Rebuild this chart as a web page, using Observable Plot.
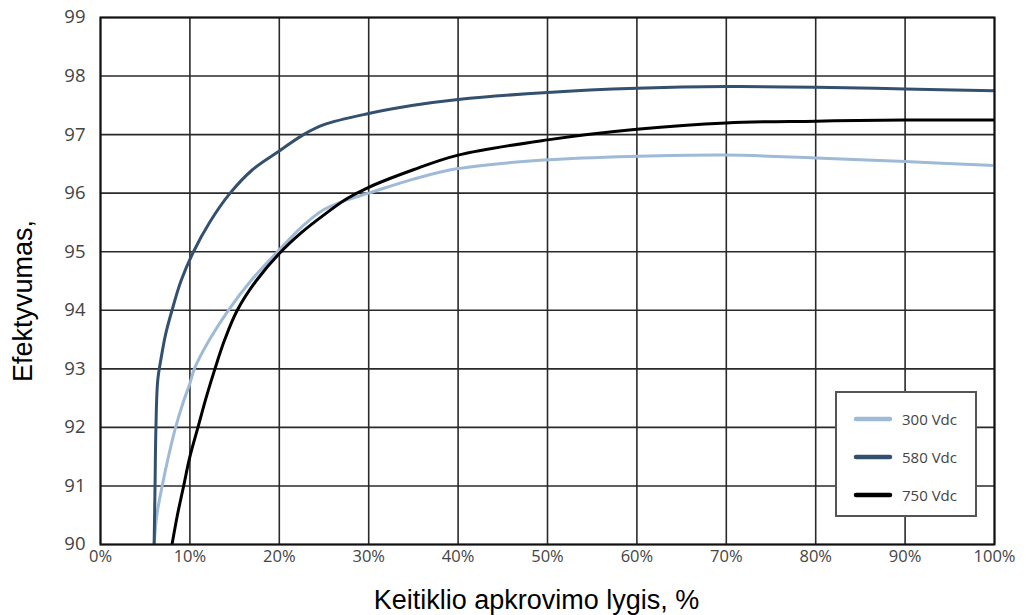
<!DOCTYPE html>
<html>
<head>
<meta charset="utf-8">
<script src="https://cdn.jsdelivr.net/npm/d3@7"></script>
<script src="https://cdn.jsdelivr.net/npm/@observablehq/plot@0.6"></script>
<style>
  html, body { margin: 0; padding: 0; background: #fff; }
  #wrap { position: relative; width: 1026px; height: 615px; }
  g[aria-label="y-axis tick label"] text { font-family: "Open Sans", sans-serif; font-size: 18.5px; fill: #444; }
  g[aria-label="x-axis tick label"] text { font-family: "Open Sans", sans-serif; font-size: 16.5px; fill: #444; }
  g[aria-label="x-axis label"] text, g[aria-label="y-axis label"] text { font-family: "Liberation Sans", Arial, sans-serif; font-size: 27px; fill: #000; }
  #legend { position: absolute; left: 835px; top: 391px; width: 142px; height: 126px; box-sizing: border-box;
            border: 2px solid #555; background: #fff; font-family: "Open Sans", sans-serif; font-size: 15px; color: #444; }
  .row { position: absolute; left: 16px; height: 20px; display: flex; align-items: center; }
  .row svg { margin-right: 9px; }
</style>
</head>
<body>
<div id="wrap"></div>
<script>
const seriesNames = ["300 Vdc", "580 Vdc", "750 Vdc"];
const seriesColors = ["#9ebad6", "#34506f", "#000000"];

const load300 = [6.0, 6.3, 6.9, 7.6, 8.4, 9.3, 10.0, 10.5, 12.2, 14.3, 16.8, 19.8, 22.7, 25, 27.5, 30, 35, 40, 50, 60, 70, 80, 90, 100];
const eff300  = [90.0, 90.5, 91.0, 91.5, 92.0, 92.45, 92.75, 93.0, 93.5, 94.0, 94.5, 95.0, 95.45, 95.72, 95.88, 96.0, 96.24, 96.42, 96.57, 96.63, 96.65, 96.6, 96.54, 96.47];

const load580 = [6.0, 6.1, 6.2, 6.4, 6.8, 7.3, 8.0, 9.0, 10.4, 12.2, 14.5, 17, 20, 22.7, 25, 30, 35, 40, 50, 60, 70, 80, 90, 100];
const eff580  = [90.0, 91.0, 92.0, 92.8, 93.2, 93.6, 94.0, 94.5, 95.0, 95.5, 96.0, 96.4, 96.72, 97.0, 97.17, 97.36, 97.5, 97.6, 97.72, 97.79, 97.82, 97.81, 97.78, 97.75];

const load750 = [8.0, 8.6, 9.3, 10.0, 10.9, 11.8, 12.8, 13.9, 15.3, 17.4, 20.0, 22.5, 25, 27.5, 30, 35, 40, 50, 60, 70, 80, 90, 100];
const eff750  = [90.0, 90.5, 91.0, 91.5, 92.0, 92.5, 93.0, 93.5, 94.0, 94.5, 94.97, 95.33, 95.63, 95.9, 96.1, 96.4, 96.65, 96.91, 97.09, 97.2, 97.23, 97.25, 97.25];

const xTicks = [0, 10, 20, 30, 40, 50, 60, 70, 80, 90, 100];
const yTicks = [90, 91, 92, 93, 94, 95, 96, 97, 98, 99];

const toRows = (name, xs, ys) => xs.map((x, i) => ({series: name, load: x, eff: ys[i]}));
const data = [
  ...toRows(seriesNames[0], load300, eff300),
  ...toRows(seriesNames[1], load580, eff580),
  ...toRows(seriesNames[2], load750, eff750)
];

const chart = Plot.plot({
  width: 1026,
  height: 615,
  marginLeft: 100,
  marginRight: 32,
  marginTop: 17,
  marginBottom: 71,
  x: {domain: [0, 100]},
  y: {domain: [90, 99]},
  color: {domain: seriesNames, range: seriesColors},
  marks: [
    Plot.gridX(xTicks, {stroke: "#2a2a2a", strokeOpacity: 1, strokeWidth: 1.6}),
    Plot.gridY(yTicks, {stroke: "#2a2a2a", strokeOpacity: 1, strokeWidth: 1.6}),
    Plot.line(data, {x: "load", y: "eff", z: "series", stroke: "series", strokeWidth: 3, curve: "catmull-rom", clip: true}),
    Plot.frame({stroke: "#111", strokeWidth: 2}),
    Plot.axisY(yTicks, {tickSize: 0, tickPadding: 15, tickFormat: d => String(d),
      label: "Efektyvumas,", labelAnchor: "center", labelArrow: "none", labelOffset: 88}),
    Plot.axisX(xTicks, {tickSize: 0, tickPadding: 6, tickFormat: d => d + "%",
      label: "Keitiklio apkrovimo lygis, %", labelAnchor: "center", labelArrow: "none", labelOffset: 64})
  ]
});

// nudge the axis titles to match the reference placement
const shift = (sel, dx, dy) => {
  const g = chart.querySelector(sel);
  if (g) g.setAttribute("transform", `translate(${dx},${dy}) ` + (g.getAttribute("transform") || ""));
};
shift('g[aria-label="x-axis label"]', -11, 0);
shift('g[aria-label="y-axis label"]', 0, 20);

const wrap = document.getElementById("wrap");
wrap.appendChild(chart);

const legend = document.createElement("div");
legend.id = "legend";
seriesNames.forEach((name, i) => {
  const row = document.createElement("div");
  row.className = "row";
  row.style.top = (16 + i * 38) + "px";
  row.innerHTML = `<svg width="40" height="8"><line x1="3" y1="4" x2="37" y2="4" stroke="${seriesColors[i]}" stroke-width="4.5" stroke-linecap="round"/></svg><span>${name}</span>`;
  legend.appendChild(row);
});
wrap.appendChild(legend);
</script>
</body>
</html>
